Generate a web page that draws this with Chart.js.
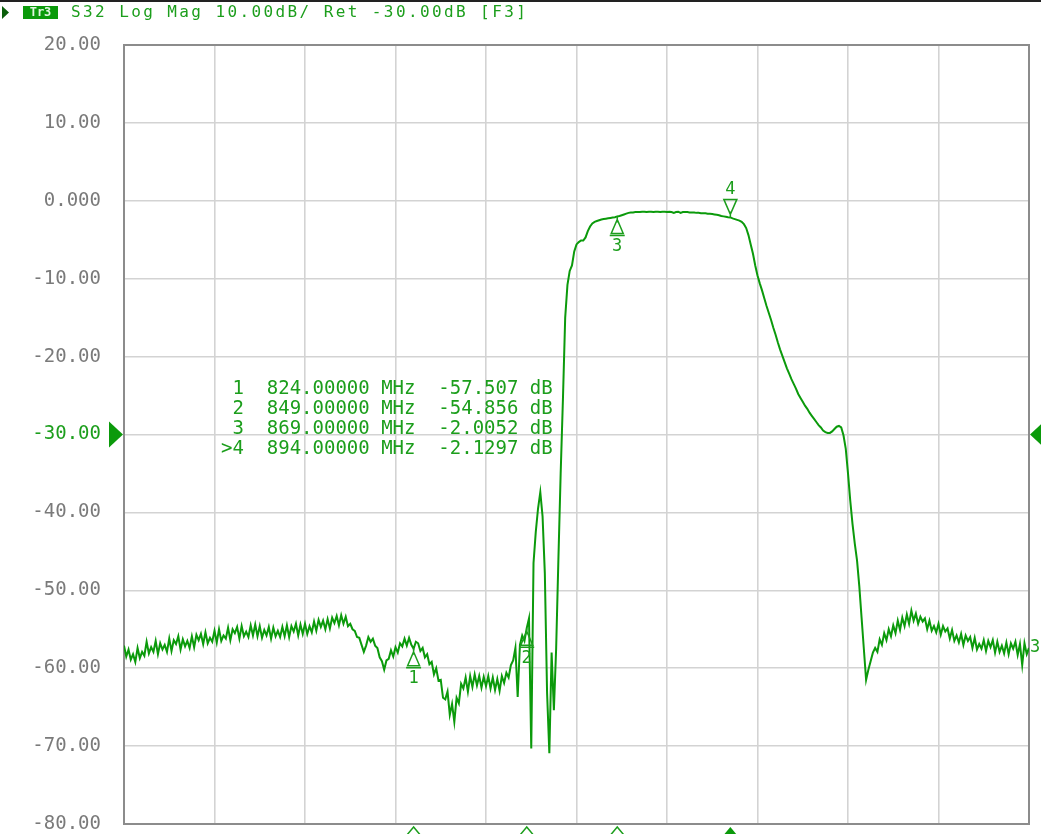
<!DOCTYPE html>
<html>
<head>
<meta charset="utf-8">
<script src="https://cdn.jsdelivr.net/npm/chart.js@4/dist/chart.umd.min.js"></script>
<style>
  html, body { margin: 0; padding: 0; background: #fff; }
  canvas { display: block; }
</style>
</head>
<body>
<canvas id="s32Chart" width="1041" height="834"></canvas>
<script>
// sweep settings: 401 points, 760 .. 960 MHz
const sweepStartMHz = 760;
const sweepStepMHz = 0.5;

// S32 log magnitude, dB (one value per sweep point)
const s32Db = [
  -57.1, -58.5, -57.6, -58.9, -58.2, -59.2, -57.4, -58.7, -57.9, -58.4,
  -56.6, -58.1, -57.3, -57.9, -56.5, -58.2, -56.8, -57.6, -57.0, -57.9,
  -56.2, -57.8, -56.4, -56.9, -55.9, -57.6, -56.3, -57.2, -56.5, -57.4,
  -55.9, -57.3, -55.7, -56.4, -55.6, -56.9, -55.4, -56.8, -56.1, -56.6,
  -55.2, -56.7, -55.0, -56.5, -55.8, -56.2, -54.8, -56.4, -55.0, -55.5,
  -54.7, -56.2, -54.6, -55.9, -55.3, -56.0, -54.5, -55.8, -54.4, -55.9,
  -54.6, -56.1, -55.1, -55.8, -54.7, -56.2, -54.8, -55.9, -55.2, -56.0,
  -54.7, -55.9, -54.5, -56.0, -54.6, -55.3, -54.3, -55.8, -54.4, -55.6,
  -54.3, -55.6, -54.6, -55.4, -54.0, -55.2, -53.8, -54.7, -53.9, -55.0,
  -53.7, -54.9, -53.5, -54.2, -53.3, -54.5, -53.2, -54.3, -53.4, -54.6,
  -54.3, -55.0, -55.2, -56.0, -56.1, -57.0, -57.9, -57.1, -56.0, -56.6,
  -56.2, -57.1, -57.4, -58.6, -59.1, -60.2, -59.0, -58.8, -57.7, -58.5,
  -57.3, -58.0, -56.8, -57.2, -56.2, -57.1, -56.1, -57.0, -57.507, -56.6,
  -56.8, -57.8, -57.4, -58.6, -58.2, -59.5, -59.2, -60.8, -60.0, -61.6,
  -61.5, -63.8, -64.0, -63.0, -66.0, -64.6, -66.9, -63.8, -64.5, -62.0,
  -62.6, -61.2, -63.0, -61.0, -62.4, -60.8, -62.2, -61.0, -62.5, -61.1,
  -62.3, -61.0, -62.6, -61.2, -62.8, -61.4, -62.9, -61.0, -61.9, -60.6,
  -61.2, -59.6, -59.0, -57.4, -63.7, -57.0, -55.8, -56.5, -54.856, -53.6,
  -70.3, -46.5, -42.5, -39.5, -37.4, -40.5, -47.8, -63.2, -70.9, -58.0,
  -65.4, -57.5, -46.0, -35.0, -25.5, -15.0, -10.8, -9.0, -8.3, -6.5,
  -5.6, -5.3, -5.1, -5.1, -4.7, -3.9, -3.3, -2.9, -2.7, -2.6,
  -2.5, -2.4, -2.35, -2.3, -2.25, -2.2, -2.15, -2.1, -2.0052, -1.95,
  -1.85, -1.75, -1.65, -1.55, -1.5, -1.5, -1.45, -1.45, -1.45, -1.4,
  -1.4, -1.45, -1.4, -1.4, -1.45, -1.4, -1.4, -1.45, -1.4, -1.4,
  -1.45, -1.4, -1.45, -1.55, -1.45, -1.4, -1.55, -1.45, -1.45, -1.45,
  -1.5, -1.5, -1.5, -1.55, -1.55, -1.6, -1.6, -1.6, -1.65, -1.65,
  -1.7, -1.75, -1.8, -1.85, -1.95, -2.0, -2.05, -2.1, -2.1297, -2.25,
  -2.35, -2.45, -2.55, -2.7, -3.0, -3.5, -4.4, -5.6, -6.8, -8.3,
  -9.6, -10.6, -11.5, -12.5, -13.5, -14.4, -15.3, -16.3, -17.2, -18.2,
  -19.1, -19.9, -20.7, -21.5, -22.2, -22.9, -23.5, -24.1, -24.8, -25.3,
  -25.8, -26.3, -26.7, -27.2, -27.6, -28.0, -28.4, -28.8, -29.1, -29.5,
  -29.7, -29.8, -29.8, -29.6, -29.3, -29.0, -28.9, -29.1, -30.1, -31.8,
  -35.0, -38.5, -41.5, -44.0, -46.2, -49.5, -53.5, -57.5, -61.5, -60.2,
  -59.1, -58.0, -57.4, -57.9, -56.3, -57.0, -55.5, -56.4, -55.0, -55.9,
  -54.5, -55.5, -53.9, -55.1, -53.5, -54.6, -53.1, -54.3, -52.6, -53.9,
  -53.0, -54.3, -53.4, -54.0, -53.6, -55.0, -53.9, -55.2, -54.6, -55.4,
  -54.3, -55.7, -54.6, -55.3, -54.9, -56.2, -55.1, -56.5, -55.8, -56.7,
  -55.6, -57.0, -55.8, -56.5, -56.0, -57.4, -56.1, -57.6, -56.9, -57.5,
  -56.4, -57.8, -56.5, -57.3, -56.4, -58.0, -56.6, -57.9, -57.1, -58.1,
  -56.7, -58.2, -56.8, -57.5, -56.6, -58.3, -56.9, -59.6, -56.8, -58.2,
  -57.4
];

// markers
const markerNames = ['1', '2', '3', '4'];
const markerMHz = [824, 849, 869, 894];
const markerDb = [-57.507, -54.856, -2.0052, -2.1297];
const activeMarker = 3;

// scale settings: 10 dB/div, reference -30 dB
const refLevelDb = -30;
const yMinDb = -80;
const yMaxDb = 20;
const dbPerDiv = 10;
const xMinMHz = 760;
const xMaxMHz = 960;
const mhzPerDiv = 20;

const traceGreen = '#0b9a0b';
const textGreen = '#1c9e1c';
const monoFont = '"DejaVu Sans Mono", "Liberation Mono", monospace';

const tracePoints = s32Db.map((v, i) => ({ x: sweepStartMHz + i * sweepStepMHz, y: v }));

function fmtDb(v) {
  return v === 0 ? '0.000' : v.toFixed(2);
}

const analyzerOverlay = {
  id: 'analyzerOverlay',
  beforeDatasetsDraw(chart) {
    const { ctx, chartArea: a } = chart;
    ctx.save();
    ctx.strokeStyle = '#8c8c8c';
    ctx.lineWidth = 2;
    ctx.strokeRect(a.left, a.top, a.right - a.left, a.bottom - a.top);
    ctx.restore();
  },
  afterDraw(chart) {
    const { ctx, chartArea: a } = chart;
    const xs = chart.scales.x;
    const ys = chart.scales.y;
    ctx.save();

    // top bar + trace title
    ctx.fillStyle = '#222';
    ctx.fillRect(0, 0, chart.width, 2);
    ctx.fillStyle = '#0b5e0b';
    ctx.beginPath();
    ctx.moveTo(2, 6); ctx.lineTo(9, 12.5); ctx.lineTo(2, 19); ctx.closePath();
    ctx.fill();
    ctx.fillStyle = traceGreen;
    ctx.fillRect(23, 6, 35, 13);
    ctx.font = 'bold 12px ' + monoFont;
    ctx.fillStyle = '#dff5df';
    ctx.textBaseline = 'middle';
    ctx.textAlign = 'center';
    ctx.fillText('Tr3', 40.5, 13);
    ctx.font = '16px ' + monoFont;
    ctx.letterSpacing = '2.4px';
    ctx.textAlign = 'left';
    ctx.fillStyle = textGreen;
    ctx.fillText('S32 Log Mag 10.00dB/ Ret -30.00dB [F3]', 71, 13);
    ctx.letterSpacing = '0px';

    // reference level arrows
    const yRef = ys.getPixelForValue(refLevelDb);
    ctx.fillStyle = traceGreen;
    ctx.beginPath();
    ctx.moveTo(a.left - 15, yRef - 13); ctx.lineTo(a.left - 1, yRef); ctx.lineTo(a.left - 15, yRef + 13);
    ctx.closePath(); ctx.fill();
    ctx.beginPath();
    ctx.moveTo(a.right + 1, yRef); ctx.lineTo(a.right + 15, yRef - 13); ctx.lineTo(a.right + 15, yRef + 13);
    ctx.closePath(); ctx.fill();

    // marker table
    ctx.font = '19px ' + monoFont;
    ctx.fillStyle = textGreen;
    ctx.textAlign = 'left';
    markerNames.forEach((n, i) => {
      const tag = (i === activeMarker ? '>' : ' ') + n;
      const line = tag + '  ' + markerMHz[i].toFixed(5) + ' MHz  ' + markerDb[i].toPrecision(5) + ' dB';
      ctx.fillText(line, 221, 389 + i * 20);
    });

    // marker symbols on the trace
    ctx.strokeStyle = textGreen;
    ctx.lineWidth = 1.5;
    ctx.textAlign = 'center';
    ctx.font = '17px ' + monoFont;
    markerNames.forEach((n, i) => {
      const px = xs.getPixelForValue(markerMHz[i]);
      const py = ys.getPixelForValue(markerDb[i]);
      ctx.beginPath();
      if (i === activeMarker) {
        ctx.moveTo(px, py); ctx.lineTo(px, py - 6);
        ctx.moveTo(px - 6.5, py - 18); ctx.lineTo(px + 6.5, py - 18); ctx.lineTo(px, py - 3); ctx.closePath();
        ctx.stroke();
        ctx.fillText(n, px, py - 28);
      } else {
        ctx.moveTo(px, py); ctx.lineTo(px, py + 6);
        ctx.moveTo(px, py + 3); ctx.lineTo(px - 6, py + 17); ctx.lineTo(px + 6, py + 17); ctx.closePath();
        ctx.moveTo(px - 7.5, py + 19); ctx.lineTo(px + 7.5, py + 19);
        ctx.stroke();
        ctx.fillText(n, px, py + 30);
      }
      // position tick under the grid
      ctx.beginPath();
      ctx.moveTo(px, a.bottom + 3); ctx.lineTo(px - 10, a.bottom + 15); ctx.lineTo(px + 10, a.bottom + 15); ctx.closePath();
      if (i === activeMarker) { ctx.fillStyle = traceGreen; ctx.fill(); ctx.fillStyle = textGreen; }
      else ctx.stroke();
    });

    // trace number at the right end
    const yEnd = ys.getPixelForValue(s32Db[s32Db.length - 1]);
    ctx.textAlign = 'left';
    ctx.font = '17px ' + monoFont;
    ctx.fillText('3', a.right + 1, yEnd);

    ctx.restore();
  }
};

new Chart(document.getElementById('s32Chart'), {
  type: 'line',
  data: {
    datasets: [{
      data: tracePoints,
      borderColor: traceGreen,
      borderWidth: 2,
      pointRadius: 0,
      tension: 0
    }]
  },
  options: {
    responsive: false,
    animation: false,
    layout: { padding: { top: 45, right: 12, bottom: 10, left: 0 } },
    plugins: { legend: { display: false }, tooltip: { enabled: false } },
    scales: {
      x: {
        type: 'linear',
        min: xMinMHz,
        max: xMaxMHz,
        ticks: { stepSize: mhzPerDiv, display: false },
        grid: { color: '#d3d3d3', lineWidth: 1.6, drawTicks: false },
        border: { display: false },
        afterFit(scale) { scale.height = 0; }
      },
      y: {
        min: yMinDb,
        max: yMaxDb,
        ticks: {
          stepSize: dbPerDiv,
          padding: 23,
          font: { family: monoFont, size: 19 },
          color: (c) => c.tick && c.tick.value === refLevelDb ? textGreen : '#7a7a7a',
          callback: (v) => fmtDb(v)
        },
        grid: { color: '#d3d3d3', lineWidth: 1.6, drawTicks: false },
        border: { display: false },
        afterFit(scale) {
          // labels may overhang the top/bottom edge
          scale.width = 124;
          scale.paddingTop = 0;
          scale.paddingBottom = 0;
        }
      }
    }
  },
  plugins: [analyzerOverlay]
});
</script>
</body>
</html>
